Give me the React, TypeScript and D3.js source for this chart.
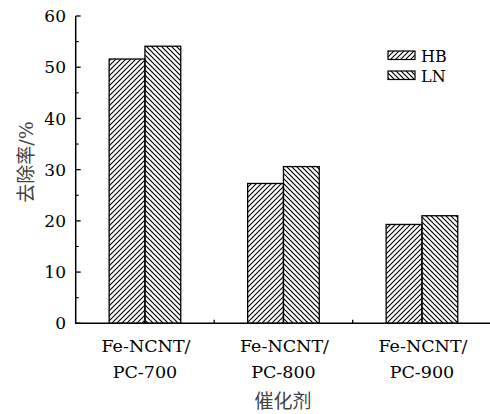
import React from "react";
import * as d3 from "d3";

const categories = ["Fe-NCNT/PC-700", "Fe-NCNT/PC-800", "Fe-NCNT/PC-900"];
const catLine1 = ["Fe-NCNT/", "Fe-NCNT/", "Fe-NCNT/"];
const catLine2 = ["PC-700", "PC-800", "PC-900"];
const seriesNames = ["HB", "LN"];
const hbValues = [51.6, 27.3, 19.3];
const lnValues = [54.1, 30.6, 21.0];
const yTicks = [0, 10, 20, 30, 40, 50, 60];
const yMinorTicks = [5, 15, 25, 35, 45, 55];
const yTitleCJK = "去除率";
const yTitleUnit = "/%";
const xTitle = "催化剂";

const W = 490;
const H = 414;
const left = 75.7;
const right = 491.2;
const top = 16;
const bottom = 323.3;

const serif = "DejaVu Serif, serif";
const cjk = "Noto Sans CJK SC, sans-serif";

export default function App() {
  const x = d3.scaleBand<string>().domain(categories).range([left, right]).padding(0);
  const y = d3.scaleLinear().domain([0, 60]).range([bottom, top]);
  const barW = 35.8;
  const values: Record<string, number[]> = { HB: hbValues, LN: lnValues };
  const serifStyle = { fontFamily: serif };
  const cjkStyle = { fontFamily: cjk };

  return (
    <svg
      width={W}
      height={H}
      style={{ position: "absolute", left: 0, top: 0, display: "block", background: "#fff" }}
    >
      <defs>
        <pattern id="hatchHB" patternUnits="userSpaceOnUse" width={5} height={5}>
          <path d="M0,5 L5,0 M-1,1 L1,-1 M4,6 L6,4" stroke="#000" strokeWidth={1.1} />
        </pattern>
        <pattern id="hatchLN" patternUnits="userSpaceOnUse" width={5} height={5}>
          <path d="M0,0 L5,5 M-1,4 L1,6 M4,-1 L6,1" stroke="#000" strokeWidth={1.2} />
        </pattern>
      </defs>

      {categories.map((c, i) => {
        const cx = (x(c) as number) + x.bandwidth() / 2;
        const sub = d3.scaleBand<string>().domain(seriesNames).range([cx - barW, cx + barW]);
        return (
          <g key={c}>
            {seriesNames.map((s) => {
              const v = values[s][i];
              return (
                <rect
                  key={s}
                  x={sub(s)}
                  y={y(v)}
                  width={sub.bandwidth()}
                  height={y(0) - y(v)}
                  fill={`url(#hatch${s})`}
                  stroke="#000"
                  strokeWidth={1.3}
                />
              );
            })}
            <text x={cx + 1} y={351.7} style={serifStyle} fontSize={17.5} textAnchor="middle" fill="#000">
              {catLine1[i]}
            </text>
            <text x={cx} y={377.7} style={serifStyle} fontSize={17.5} textAnchor="middle" fill="#000">
              {catLine2[i]}
            </text>
          </g>
        );
      })}

      {/* axes */}
      <line x1={left} y1={top} x2={left} y2={bottom} stroke="#000" strokeWidth={1.5} />
      <line x1={left - 0.75} y1={bottom} x2={W} y2={bottom} stroke="#000" strokeWidth={1.5} />
      {yTicks.map((t) => (
        <g key={t}>
          <line x1={left} x2={left + 5} y1={y(t)} y2={y(t)} stroke="#000" strokeWidth={1.3} />
          <text
            x={66}
            y={y(t)}
            dy="0.36em"
            style={serifStyle}
            fontSize={17}
            textAnchor="end"
            fill="#000"
          >
            {t}
          </text>
        </g>
      ))}
      {yMinorTicks.map((t) => (
        <line key={t} x1={left} x2={left + 3} y1={y(t)} y2={y(t)} stroke="#000" strokeWidth={1.1} />
      ))}
      {categories.slice(1).map((c) => (
        <line
          key={c}
          x1={x(c)}
          x2={x(c)}
          y1={bottom}
          y2={bottom - 3.5}
          stroke="#000"
          strokeWidth={1.3}
        />
      ))}

      {/* titles */}
      <text
        transform={`translate(33,162) rotate(-90)`}
        textAnchor="middle"
        fontSize={19}
        fill="#444"
      >
        <tspan style={cjkStyle}>{yTitleCJK}</tspan>
        <tspan style={serifStyle}>{yTitleUnit}</tspan>
      </text>
      <text x={283} y={408} textAnchor="middle" style={cjkStyle} fontSize={19} fill="#444">
        {xTitle}
      </text>

      {/* legend */}
      {seriesNames.map((s, i) => (
        <g key={s}>
          <rect
            x={388}
            y={51 + i * 20}
            width={27}
            height={8.5}
            fill={`url(#hatch${s})`}
            stroke="#000"
            strokeWidth={1.2}
          />
          <text x={421} y={62 + i * 20} style={serifStyle} fontSize={16} fill="#000">
            {s}
          </text>
        </g>
      ))}
    </svg>
  );
}
